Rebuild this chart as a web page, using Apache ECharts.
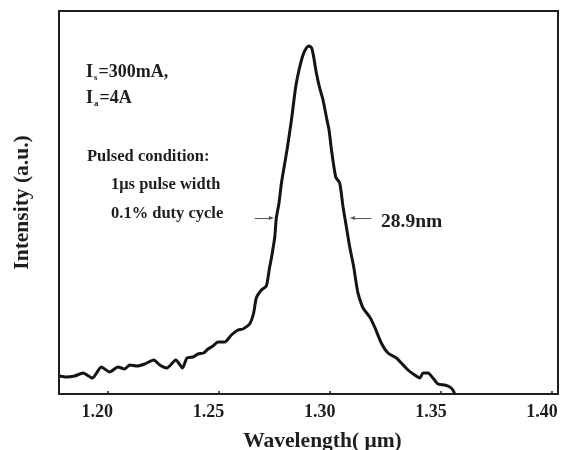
<!DOCTYPE html>
<html>
<head>
<meta charset="utf-8">
<script src="https://cdn.jsdelivr.net/npm/echarts@6/dist/echarts.min.js"></script>
<style>
html,body{margin:0;padding:0;background:#fff;}
#showChart{width:562px;height:450px;}
</style>
</head>
<body>
<div id="showChart"></div>
<script>
// 波长 (um) 与强度 (a.u.)
var wavelength = [1.1786,1.1816,1.1853,1.1891,1.1933,1.1973,1.2011,1.2048,1.2078,1.2101,
  1.2134,1.2168,1.2209,1.2236,1.2268,1.2308,1.2338,1.2358,1.2385,1.2408,
  1.2433,1.2453,1.2475,1.2498,1.2528,1.2558,1.2588,1.2610,1.2640,1.2658,
  1.2670,1.2693,1.2715,1.2730,1.2738,1.2753,1.2760,1.2772,1.2783,1.2798,
  1.2808,1.2828,1.2847,1.2862,1.2880,1.2895,1.2907,1.2919,1.2928,1.2940,
  1.2955,1.2970,1.2985,1.2997,1.3008,1.3027,1.3045,1.3060,1.3075,1.3090,
  1.3108,1.3117,1.3127,1.3150,1.3180,1.3202,1.3232,1.3262,1.3300,1.3322,
  1.3352,1.3382,1.3405,1.3420,1.3442,1.3464,1.3487,1.3517,1.3540,1.3554,1.3562];
var intensity = [18,17,18,21,16,27,22,27,25,29,
  28,30,34,29,26,34,26,36,37,40,
  41,45,48,52,52,59,64,65,70,81,
  96,104,108,127,136,157,176,191,211,231,
  244,274,307,324,339,346,348,346,337,321,
  306,294,277,264,244,217,211,187,167,147,
  127,114,101,86,77,67,51,41,36,31,
  24,19,16,21,21,16,10,9,7,4,0];
var tickValues = [1.20,1.25,1.30,1.35,1.40];
// 半高宽箭头
var fwhmLeft = [[1.2663,176],[1.2738,176]];
var fwhmRight = [[1.3187,176],[1.3102,176]];

var myChart = echarts.init(document.getElementById('showChart'));
var data = [];
for (var i = 0; i < wavelength.length; i++) {
    data.push([wavelength[i], intensity[i]]);
}
var serif = '"Liberation Serif","DejaVu Serif",serif';
var ink = '#1e1e1e';
var richNote = {
    b: {fontFamily: serif, fontWeight: 'bold', fontSize: 18, fill: ink, lineHeight: 20},
    s: {fontFamily: serif, fontWeight: 'bold', fontSize: 9, fill: ink, lineHeight: 20, verticalAlign: 'bottom', padding: [0, 1, 0, 1]}
};

option = {
    backgroundColor: '#fff',
    animation: false,
    grid: {
        left: 59, right: 4, top: 11, bottom: 56,
        containLabel: false,
        outerBoundsMode: 'none',
        show: true, borderColor: ink, borderWidth: 2
    },
    xAxis: {
        type: 'value',
        min: 1.17828,
        max: 1.40265,
        name: 'Wavelength( \u03bcm)',
        nameLocation: 'middle',
        nameGap: 36,
        nameTextStyle: {
            fontFamily: serif, fontWeight: 'bold', fontSize: 21.5, color: ink,
            padding: [0, 0, 0, 28]
        },
        axisLine: {lineStyle: {color: ink, width: 2}},
        axisTick: {
            inside: true, length: 3, customValues: tickValues,
            lineStyle: {color: ink, width: 1.5}
        },
        axisLabel: {
            customValues: tickValues,
            margin: 9,
            fontFamily: serif, fontWeight: 'bold', fontSize: 18, color: ink,
            padding: [0, 20, 0, 0],
            formatter: function (v) { return v.toFixed(2); }
        },
        splitLine: {show: false}
    },
    yAxis: {
        type: 'value',
        min: 0,
        max: 383,
        name: 'Intensity (a.u.)',
        nameLocation: 'middle',
        nameGap: 26,
        nameTextStyle: {fontFamily: serif, fontWeight: 'bold', fontSize: 21.5, color: ink},
        axisLine: {lineStyle: {color: ink, width: 2}},
        axisTick: {show: false},
        axisLabel: {show: false},
        splitLine: {show: false}
    },
    series: [{
        type: 'line',
        data: data,
        showSymbol: false,
        smooth: 0.2,
        lineStyle: {color: '#141414', width: 3},
        markLine: {
            silent: true,
            symbol: ['none', 'triangle'],
            symbolSize: [4, 5],
            label: {show: false},
            lineStyle: {color: '#555', width: 1, type: 'solid'},
            data: [
                [{coord: fwhmLeft[0]}, {coord: fwhmLeft[1]}],
                [{coord: fwhmRight[0]}, {coord: fwhmRight[1]}]
            ]
        }
    }],
    graphic: [
        {type: 'text', left: 86, top: 63, style: {
            text: '{b|I}{s|s}{b|=300mA,}', fill: ink, rich: richNote
        }},
        {type: 'text', left: 86, top: 89, style: {
            text: '{b|I}{s|a}{b|=4A}', fill: ink, rich: richNote
        }},
        {type: 'text', left: 87, top: 148, style: {
            text: 'Pulsed condition:', fill: ink,
            font: 'bold 16.5px ' + serif
        }},
        {type: 'text', left: 111, top: 176, style: {
            text: '1\u03bcs pulse width', fill: ink,
            font: 'bold 16.5px ' + serif
        }},
        {type: 'text', left: 111, top: 205, style: {
            text: '0.1% duty cycle', fill: ink,
            font: 'bold 16.5px ' + serif
        }},
        {type: 'text', left: 381, top: 212, style: {
            text: '28.9nm', fill: ink,
            font: 'bold 19.5px ' + serif
        }}
    ]
};

myChart.setOption(option);
</script>
</body>
</html>
